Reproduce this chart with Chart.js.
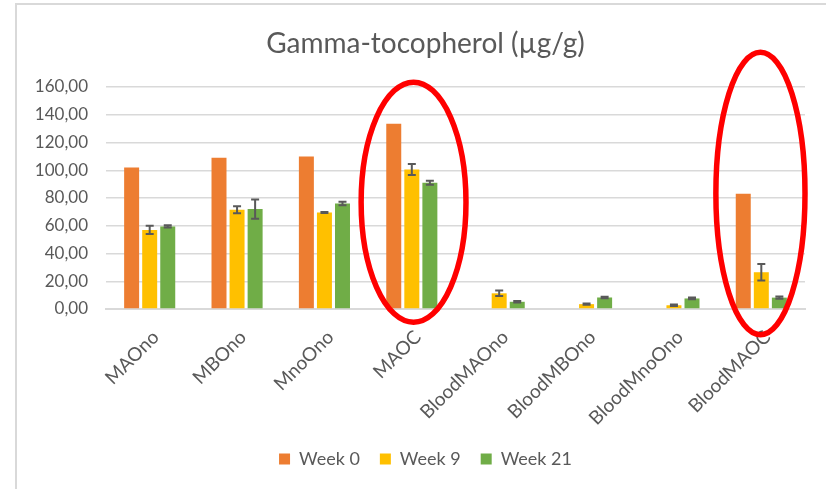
<!DOCTYPE html>
<html>
<head>
<meta charset="utf-8">
<script src="https://cdn.jsdelivr.net/npm/chart.js@4/dist/chart.umd.min.js"></script>
<style>
  html, body { margin: 0; padding: 0; background: #fff; overflow: hidden; }
  #frame { position: absolute; left: 15px; top: 3px; width: 830px; height: 500px;
           border-left: 2px solid #d9d9d9; border-top: 2px solid #d9d9d9; }
  #wrap { position: absolute; left: 0; top: 0; width: 826px; height: 489px; }
</style>
</head>
<body>
<div id="frame"></div>
<div id="wrap"><canvas id="c" width="826" height="489"></canvas></div>
<script>
const categories = ["MAOno", "MBOno", "MnoOno", "MAOC", "BloodMAOno", "BloodMBOno", "BloodMnoOno", "BloodMAOC"];
const seriesNames = ["Week 0", "Week 9", "Week 21"];
const week0 = [102, 109, 110, 133.5, 0, 0, 0, 83];
const week9 = [57, 71.5, 69.5, 100.5, 11.3, 3.5, 2.7, 26.5];
const week21 = [59.5, 72, 76, 91, 5.2, 8.3, 7.6, 8.2];
const week0Err = [0, 0, 0, 0, 0, 0, 0, 0];
const week9Err = [3, 2.5, 0.4, 4, 2, 0.5, 0.5, 6];
const week21Err = [0.8, 7, 1.3, 1.5, 0.6, 0.6, 0.6, 0.8];
const yTicks = [0, 20, 40, 60, 80, 100, 120, 140, 160];
// highlight ellipses: category position, value range, half width (in categories)
const highlights = [
  { cat: 3.02, yLow: -9.5, yHigh: 163.5, halfCats: 0.6 },
  { cat: 6.99, yLow: -18.5, yHigh: 185, halfCats: 0.51 }
];

const colors = ["#ED7D31", "#FFC000", "#70AD47"];
const FONT = "Lato, 'Liberation Sans', sans-serif";
const GREY = "#595959";

const errorBars = {
  id: "errorBars",
  afterDatasetsDraw(chart) {
    const ctx = chart.ctx;
    const ys = chart.scales.y;
    const errs = [week0Err, week9Err, week21Err];
    ctx.save();
    ctx.strokeStyle = "#595959";
    ctx.lineWidth = 2;
    chart.data.datasets.forEach((ds, i) => {
      const meta = chart.getDatasetMeta(i);
      meta.data.forEach((bar, j) => {
        const e = errs[i][j];
        if (!e) return;
        const v = ds.data[j];
        const top = ys.getPixelForValue(v + e);
        const bot = ys.getPixelForValue(v - e);
        const x = bar.x;
        ctx.beginPath();
        ctx.moveTo(x, top); ctx.lineTo(x, bot);
        ctx.moveTo(x - 4, top); ctx.lineTo(x + 4, top);
        ctx.moveTo(x - 4, bot); ctx.lineTo(x + 4, bot);
        ctx.stroke();
      });
    });
    ctx.restore();
  }
};

const ellipses = {
  id: "ellipses",
  afterDraw(chart) {
    const ctx = chart.ctx;
    const xs = chart.scales.x, ys = chart.scales.y;
    const catW = xs.getPixelForValue(1) - xs.getPixelForValue(0);
    ctx.save();
    ctx.strokeStyle = "#FF0000";
    ctx.lineWidth = 5.5;
    highlights.forEach(h => {
      const cx = xs.getPixelForValue(h.cat);
      const yT = ys.getPixelForValue(h.yHigh), yB = ys.getPixelForValue(h.yLow);
      ctx.beginPath();
      ctx.ellipse(cx, (yT + yB) / 2, h.halfCats * catW, (yB - yT) / 2, 0, 0, Math.PI * 2);
      ctx.stroke();
    });
    ctx.restore();
  }
};

new Chart(document.getElementById("c"), {
  type: "bar",
  data: {
    labels: categories,
    datasets: [
      { label: seriesNames[0], data: week0, backgroundColor: colors[0] },
      { label: seriesNames[1], data: week9, backgroundColor: colors[1] },
      { label: seriesNames[2], data: week21, backgroundColor: colors[2] }
    ]
  },
  options: {
    responsive: false,
    animation: false,
    events: [],
    layout: { padding: { left: 30, right: 5, top: 0, bottom: 11 } },
    datasets: { bar: { categoryPercentage: 0.62, barPercentage: 0.83 } },
    plugins: {
      title: {
        display: true,
        text: "Gamma-tocopherol (µg/g)",
        color: GREY,
        font: { family: FONT, size: 28, weight: "normal" },
        padding: { top: 27.5, bottom: 25.9 }
      },
      legend: {
        position: "bottom",
        labels: {
          color: GREY,
          font: { family: FONT, size: 18 },
          boxWidth: 11, boxHeight: 11, padding: 20
        }
      },
      tooltip: { enabled: false }
    },
    scales: {
      x: {
        grid: { display: false },
        border: { color: "#d9d9d9", width: 2 },
        ticks: {
          color: GREY, font: { family: FONT, size: 19 },
          minRotation: 45, maxRotation: 45, padding: 9, labelOffset: 6
        },
        afterFit(s) { s.height = 121; }
      },
      y: {
        min: 0, max: 160,
        afterBuildTicks(s) { s.ticks = yTicks.map(v => ({ value: v })); },
        grid: { color: "#d9d9d9", lineWidth: 1.5, drawTicks: false },
        border: { display: false },
        ticks: {
          color: GREY, font: { family: FONT, size: 17 }, padding: 18,
          callback: v => v.toFixed(2).replace(".", ",")
        },
        afterFit(s) { s.width = 76; }
      },
      yPad: {
        position: "right",
        display: true,
        grid: { display: false },
        border: { display: false },
        ticks: { display: false },
        afterFit(s) { s.width = 16; }
      }
    }
  },
  plugins: [errorBars, ellipses]
});
</script>
</body>
</html>
